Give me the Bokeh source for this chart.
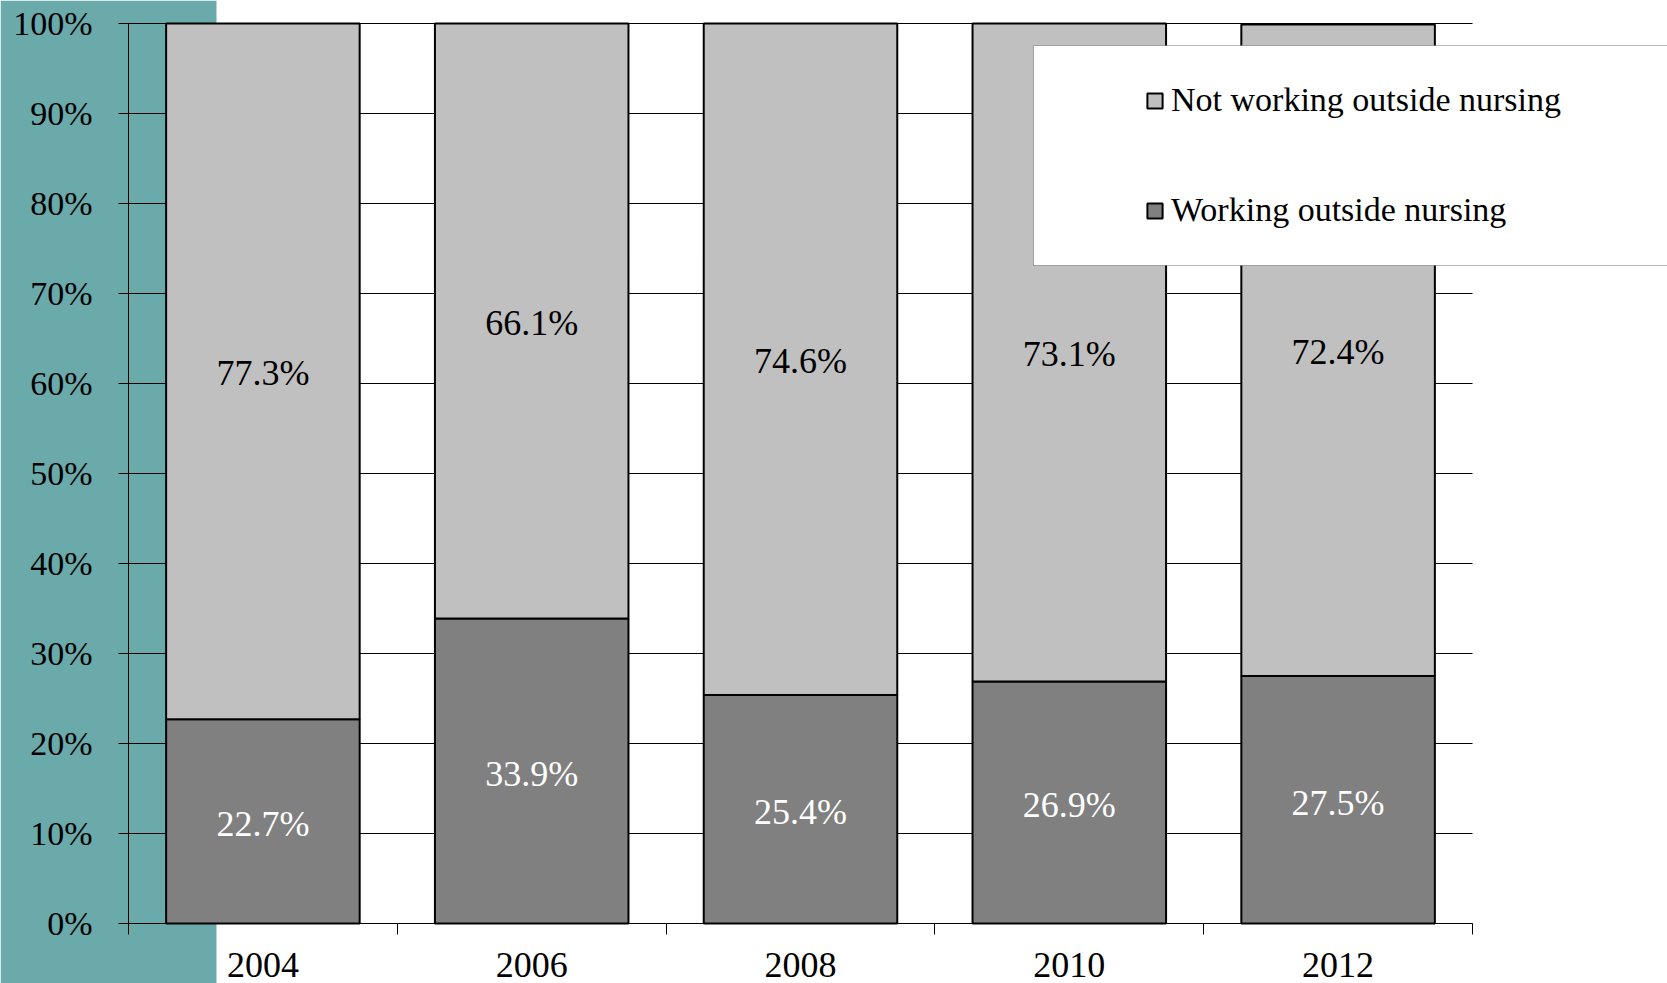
from bokeh.plotting import figure
from bokeh.models import (FixedTicker, BoxAnnotation, Legend, LegendItem,
                          ColumnDataSource, LabelSet, Range1d, PrintfTickFormatter,
                          LinearAxis)
from bokeh.core.properties import value
from bokeh.embed import file_html
from bokeh.resources import INLINE

# ---- data ----
years = ["2004", "2006", "2008", "2010", "2012"]
working = [22.7, 33.9, 25.4, 26.9, 27.5]
not_working = [77.3, 66.1, 74.6, 73.1, 72.4]
y_ticks = [0, 10, 20, 30, 40, 50, 60, 70, 80, 90, 100]
series_names = ["Working outside nursing", "Not working outside nursing"]

FONT = "Liberation Serif"
TEAL = "#6AAAAB"
LIGHT = "#C0C0C0"
DARK = "#808080"

# ---- layout (canvas pixels) ----
W, H = 1667, 983
PX_L, PX_R, PX_T, PX_B = 128, 1472, 23, 923
n = len(years)
xs = [i + 0.5 for i in range(n)]
YMAX = y_ticks[-1]

sx = (PX_R - PX_L) / n
sy = (PX_B - PX_T) / YMAX

src = ColumnDataSource(dict(
    x=xs,
    working=working,
    not_working=not_working,
    w_mid=[w / 2 for w in working],
    n_mid=[w + nw / 2 for w, nw in zip(working, not_working)],
    w_lbl=[f"{v:.1f}%" for v in working],
    n_lbl=[f"{v:.1f}%" for v in not_working],
))

p = figure(width=W, height=H, output_backend="svg", toolbar_location=None,
           x_range=Range1d(-PX_L / sx, n + (W - PX_R) / sx),
           y_range=Range1d(-(H - PX_B) / sy, YMAX + PX_T / sy),
           x_axis_type=None, y_axis_type=None, min_border=0)
p.outline_line_color = None
p.background_fill_color = "white"
p.border_fill_color = "white"
p.xgrid.visible = False
p.ygrid.visible = False

# teal panel at the left of the canvas
teal = BoxAnnotation(left=0, right=216, top=0, bottom=H,
                     left_units="canvas", right_units="canvas",
                     top_units="canvas", bottom_units="canvas",
                     fill_color=TEAL, fill_alpha=1.0, line_alpha=0, level="image")
p.add_layout(teal)

# horizontal grid lines across the plot area
p.segment(x0=[0] * len(y_ticks), x1=[n] * len(y_ticks), y0=y_ticks, y1=y_ticks,
          line_color="black", line_width=1)

# y axis
ya = LinearAxis(fixed_location=0, bounds=(0, YMAX))
ya.ticker = FixedTicker(ticks=y_ticks)
ya.formatter = PrintfTickFormatter(format="%d%%")
ya.major_tick_out = 10
ya.major_tick_in = 0
ya.minor_tick_out = 0
ya.minor_tick_in = 0
ya.axis_line_color = "black"
ya.major_tick_line_color = "black"
ya.major_label_text_font = FONT
ya.major_label_text_font_size = "34px"
ya.major_label_text_color = "black"
ya.major_label_standoff = 26
p.add_layout(ya, "left")

# x axis
xa = LinearAxis(fixed_location=0, bounds=(0, n))
xa.ticker = FixedTicker(ticks=xs, minor_ticks=list(range(n + 1)))
xa.major_label_overrides = {x: y for x, y in zip(xs, years)}
xa.major_tick_out = 0
xa.major_tick_in = 0
xa.minor_tick_out = 11
xa.minor_tick_in = 0
xa.minor_tick_line_color = "black"
xa.axis_line_color = "black"
xa.major_label_text_font = FONT
xa.major_label_text_font_size = "36px"
xa.major_label_text_color = "black"
xa.major_label_standoff = 18
p.add_layout(xa, "below")

# stacked bars
rs = p.vbar_stack(["working", "not_working"], x="x", width=0.72, source=src,
                  fill_color=[DARK, LIGHT], line_color="black", line_width=2)

# data labels
p.add_layout(LabelSet(x="x", y="w_mid", text="w_lbl", source=src, y_offset=-3,
                      text_font=value(FONT), text_font_size="36px",
                      text_color="white", text_align="center", text_baseline="middle"))
p.add_layout(LabelSet(x="x", y="n_mid", text="n_lbl", source=src, y_offset=-2,
                      text_font=value(FONT), text_font_size="36px",
                      text_color="black", text_align="center", text_baseline="middle"))

# legend frame
legbox = BoxAnnotation(left=1033, right=1700, top=45, bottom=265,
                       left_units="canvas", right_units="canvas",
                       top_units="canvas", bottom_units="canvas",
                       fill_color="white", fill_alpha=1.0,
                       line_color="#111111", line_width=1, level="guide")
p.add_layout(legbox)

item_h = 40
legend = Legend(items=[LegendItem(label=series_names[1], renderers=[rs[1]]),
                       LegendItem(label=series_names[0], renderers=[rs[0]])],
                location=(1145, H - (210 + item_h // 2)),
                orientation="vertical",
                glyph_width=19, glyph_height=19, label_height=item_h,
                label_standoff=7, spacing=110 - item_h, padding=0, margin=0,
                label_text_font=FONT, label_text_font_size="34px",
                label_text_color="black",
                background_fill_alpha=0, border_line_alpha=0)
p.add_layout(legend)

open("out.html", "w").write(file_html(p, INLINE))
